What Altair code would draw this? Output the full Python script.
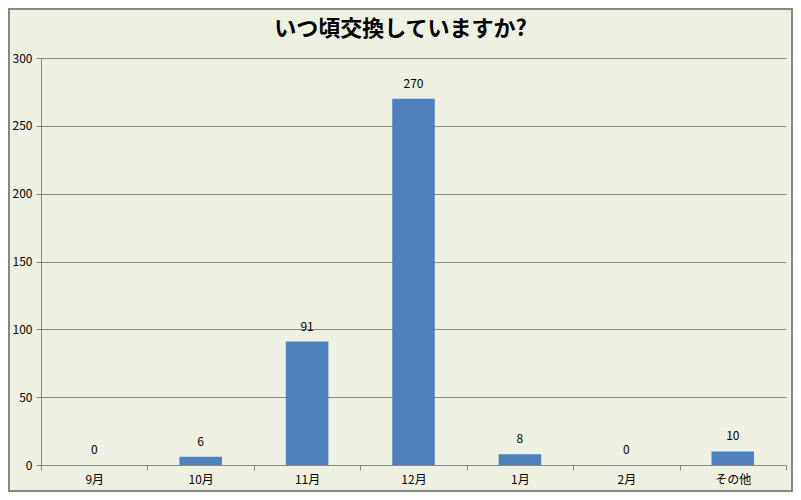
import altair as alt
import pandas as pd

categories = ["9月", "10月", "11月", "12月", "1月", "2月", "その他"]
values = [0, 6, 91, 270, 8, 0, 10]
title_text = "いつ頃交換していますか?"

df = pd.DataFrame({"month": categories, "count": values})

FONT = "Noto Sans CJK JP"
BG = "#EEF1E1"
W, H = 745, 407

x = alt.X("month:N", sort=categories, title=None,
          scale=alt.Scale(paddingInner=0, paddingOuter=0),
          axis=alt.Axis(labelAngle=0, tickBand="extent", grid=False,
                        domainColor="#868686", tickColor="#868686",
                        tickSize=5, labelPadding=4, labelFontSize=12,
                        labelFont=FONT, labelColor="#000000"))
y = alt.Y("count:Q", title=None,
          scale=alt.Scale(domain=[0, 300], nice=False),
          axis=alt.Axis(values=[0, 50, 100, 150, 200, 250, 300],
                        grid=True, gridColor="#868686", gridWidth=1,
                        domainColor="#868686", tickColor="#868686",
                        tickSize=5, labelPadding=4, labelFontSize=12,
                        labelFont=FONT, labelColor="#000000"))

bars = alt.Chart(df).mark_bar(color="#4F81BD",
                              width=alt.RelativeBandSize(0.4)).encode(x=x, y=y)
labels = alt.Chart(df).mark_text(dy=-8, baseline="bottom", font=FONT,
                                 fontSize=12, color="#000000").encode(
    x=alt.X("month:N", sort=categories),
    y="count:Q",
    text="count:Q")

frame = alt.Chart(df).mark_rect(fill=None, stroke="#868686", strokeWidth=1.5).encode(
    x=alt.value(-32), x2=alt.value(W + 6), y=alt.value(-49), y2=alt.value(H + 26))

title = alt.Chart(pd.DataFrame({"t": [title_text]})).mark_text(
    font=FONT, fontSize=22, fontWeight="bold", color="#000000",
    align="center", baseline="middle").encode(
    text="t:N", x=alt.value(W / 2 - 13), y=alt.value(-29))

chart = alt.layer(bars, labels, frame, title).properties(
    width=W, height=H,
    autosize=alt.AutoSizeParams(type="none"),
    padding={"left": 33, "top": 50, "right": 7, "bottom": 27},
    background=BG,
).configure_view(stroke=None)

chart.save("out.html", embed_options={"renderer": "svg", "actions": False})
